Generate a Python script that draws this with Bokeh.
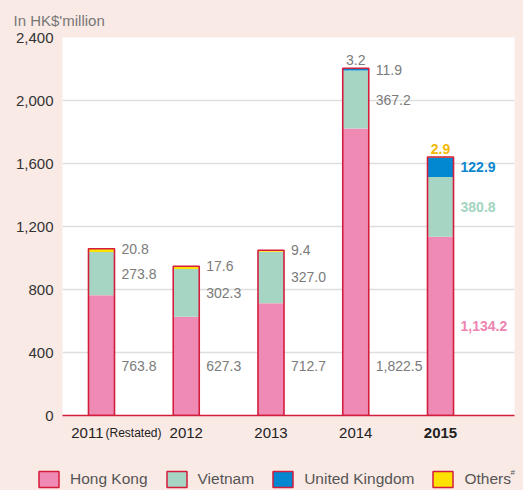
from bokeh.plotting import figure
from bokeh.models import (Range1d, Legend, LegendItem, ColumnDataSource,
                          NumeralTickFormatter, FixedTicker)
from bokeh.embed import file_html
from bokeh.resources import INLINE
from bokeh.core.properties import value

# ---- data ----
years = ["2011", "2012", "2013", "2014", "2015"]
hong_kong = [763.8, 627.3, 712.7, 1822.5, 1134.2]
vietnam = [273.8, 302.3, 327.0, 367.2, 380.8]
united_kingdom = [0.0, 0.0, 0.0, 11.9, 122.9]
others = [20.8, 17.6, 9.4, 3.2, 2.9]
y_ticks = [0, 400, 800, 1200, 1600, 2000, 2400]
series_names = ["Hong Kong", "Vietnam", "United Kingdom", "Others"]
highlight_year = "2015"
restated_note = "(Restated)"
unit_title = "In HK$'million"

# ---- styles ----
PINK = "#ef8ab5"
GREEN = "#a6d6c3"
BLUE = "#0288d1"
YELLOW = "#ffe100"
RED = "#d41c3c"
BG = "#faeae6"
FONT = "Liberation Sans"
series_colors = [PINK, GREEN, BLUE, YELLOW]
label_colors = ["#ef84b0", "#a2d5c0", "#0b86cf", "#f5b800"]
GRAY_TXT = "#7b7b7b"
BAR_W = 0.307

W = 523
ML, MR, MT = 62, 9, 36
MAIN_H = 425
MB = 10
BOT_H = 490 - MAIN_H
X0, X1 = -0.46, 4.873

idx = list(range(len(years)))
totals = [a + b + c + d for a, b, c, d in zip(hong_kong, vietnam, united_kingdom, others)]

p = figure(width=W, height=MAIN_H, output_backend="svg", toolbar_location=None,
           x_range=Range1d(X0, X1), y_range=Range1d(0, 2400),
           min_border_left=ML, min_border_right=MR, min_border_top=MT, min_border_bottom=MB)
p.background_fill_color = "white"
p.border_fill_color = BG
p.outline_line_color = None

p.title.text = unit_title
p.title.align = "left"
p.title.offset = -49
p.title.standoff = 18
p.title.text_font = FONT
p.title.text_font_size = "15px"
p.title.text_font_style = "normal"
p.title.text_color = "#777777"

src = ColumnDataSource(dict(x=idx, hk=hong_kong, vn=vietnam, uk=united_kingdom,
                            ot=others, total=totals))
p.vbar_stack(["hk", "vn", "uk", "ot"], x="x", width=BAR_W, source=src,
             fill_color=series_colors, line_color=None)
p.vbar(x="x", top="total", width=BAR_W, source=src, fill_color=None,
       line_color=RED, line_width=1.6)

# ---- value labels ----
def fmt(v):
    return f"{v:,.1f}"

hk_row = min(hong_kong) / 2
right = dict(x=[], y=[], t=[], c=[])
right_b = dict(x=[], y=[], t=[], c=[])
top = dict(x=[], y=[], t=[], c=[])
top_b = dict(x=[], y=[], t=[], c=[])
for i, yr in enumerate(years):
    hl = yr == highlight_year
    R = right_b if hl else right
    T = top_b if hl else top
    xr = i + BAR_W / 2
    hk, vn, uk, ot = hong_kong[i], vietnam[i], united_kingdom[i], others[i]
    R["x"].append(xr); R["y"].append(hk / 2 if hl else hk_row); R["t"].append(fmt(hk))
    R["c"].append(label_colors[0] if hl else GRAY_TXT)
    R["x"].append(xr); R["y"].append(hk + vn / 2); R["t"].append(fmt(vn))
    R["c"].append(label_colors[1] if hl else GRAY_TXT)
    if uk > 0:
        R["x"].append(xr); R["y"].append(hk + vn + uk / 2); R["t"].append(fmt(uk))
        R["c"].append(label_colors[2] if hl else GRAY_TXT)
        T["x"].append(i); T["y"].append(totals[i]); T["t"].append(fmt(ot))
        T["c"].append(label_colors[3] if hl else GRAY_TXT)
    else:
        R["x"].append(xr); R["y"].append(totals[i]); R["t"].append(fmt(ot))
        R["c"].append(label_colors[3] if hl else GRAY_TXT)

for d, style in ((right, "normal"), (right_b, "bold")):
    p.text(x="x", y="y", text="t", text_color="c", source=ColumnDataSource(d),
           x_offset=7, text_align="left", text_baseline="middle",
           text_font=value(FONT), text_font_size="14px", text_font_style=style)
for d, style in ((top, "normal"), (top_b, "bold")):
    p.text(x="x", y="y", text="t", text_color="c", source=ColumnDataSource(d),
           y_offset=-3, text_align="center", text_baseline="bottom",
           text_font=value(FONT), text_font_size="14px", text_font_style=style)

# ---- axes ----
p.xgrid.visible = False
p.ygrid.grid_line_color = "#dedede"
p.ygrid.grid_line_width = 1.5
p.yaxis.ticker = FixedTicker(ticks=y_ticks)
p.yaxis.formatter = NumeralTickFormatter(format="0,0")
p.yaxis.axis_line_color = None
p.yaxis.major_tick_line_color = None
p.yaxis.minor_tick_line_color = None
p.yaxis.major_tick_out = 0
p.yaxis.major_tick_in = 0
p.yaxis.major_label_standoff = 9
p.yaxis.major_label_text_font = FONT
p.yaxis.major_label_text_font_size = "15px"
p.yaxis.major_label_text_color = "#333333"

p.xaxis.ticker = FixedTicker(ticks=[])
p.xaxis.axis_line_color = RED
p.xaxis.axis_line_width = 1.5
p.xaxis.major_tick_line_color = None
p.xaxis.minor_tick_line_color = None
p.xaxis.major_tick_out = 0
p.xaxis.major_label_text_font_size = "0px"
p.xaxis.major_label_standoff = 0

# ---- bottom strip: category labels and legend (same x scale, full-width frame) ----
k = (W - ML - MR) / (X1 - X0)
bx0 = X0 - ML / k
bx1 = X1 + MR / k
b = figure(width=W, height=BOT_H, output_backend="svg", toolbar_location=None,
           x_range=Range1d(bx0, bx1), y_range=Range1d(BOT_H, 0),
           x_axis_type=None, y_axis_type=None,
           min_border_left=0, min_border_right=0, min_border_top=0, min_border_bottom=0)
b.background_fill_color = BG
b.border_fill_color = BG
b.outline_line_color = None
b.grid.visible = False

LBL_Y = 7
normal_years = [yr for yr in years[1:] if yr != highlight_year]
normal_idx = [years.index(yr) for yr in normal_years]
b.text(x=normal_idx, y=[LBL_Y] * len(normal_idx), text=normal_years,
       text_align="center", text_baseline="middle", text_font=value(FONT),
       text_font_size="15px", text_color="#222222")
hi = years.index(highlight_year)
b.text(x=[hi], y=[LBL_Y], text=[highlight_year], text_align="center",
       text_baseline="middle", text_font=value(FONT), text_font_size="15px",
       text_font_style="bold", text_color="#222222")
b.text(x=[0], y=[LBL_Y], text=[years[0]], x_offset=2, text_align="right",
       text_baseline="middle", text_font=value(FONT), text_font_size="15px",
       text_color="#222222")
b.text(x=[0], y=[LBL_Y], text=[restated_note], x_offset=4, text_align="left",
       text_baseline="middle", text_font=value(FONT), text_font_size="12px",
       text_color="#222222")

nan = float("nan")
items = []
for name, col in zip(series_names, series_colors):
    r = b.vbar(x=[nan], top=[nan], width=BAR_W, fill_color=col, line_color=RED,
               line_width=1.5)
    items.append(LegendItem(label=name, renderers=[r]))
legend = Legend(items=items, location=(36, 1), orientation="horizontal",
                glyph_width=25, glyph_height=20, label_standoff=9, spacing=16,
                padding=0, margin=0, border_line_color=None, background_fill_alpha=0,
                label_text_font=FONT, label_text_font_size="15.5px",
                label_text_color="#555555", label_height=20)
b.add_layout(legend)
b.text(x=[bx1], y=[BOT_H - 18], text=["#"], x_offset=-13, text_align="left",
       text_baseline="middle", text_font=value(FONT), text_font_size="8px",
       text_color="#555555")

html = file_html([p, b], INLINE)
html = html.replace("</head>", "<style>body{background:%s;margin:0;}</style></head>" % BG, 1)
open("out.html", "w").write(html)
